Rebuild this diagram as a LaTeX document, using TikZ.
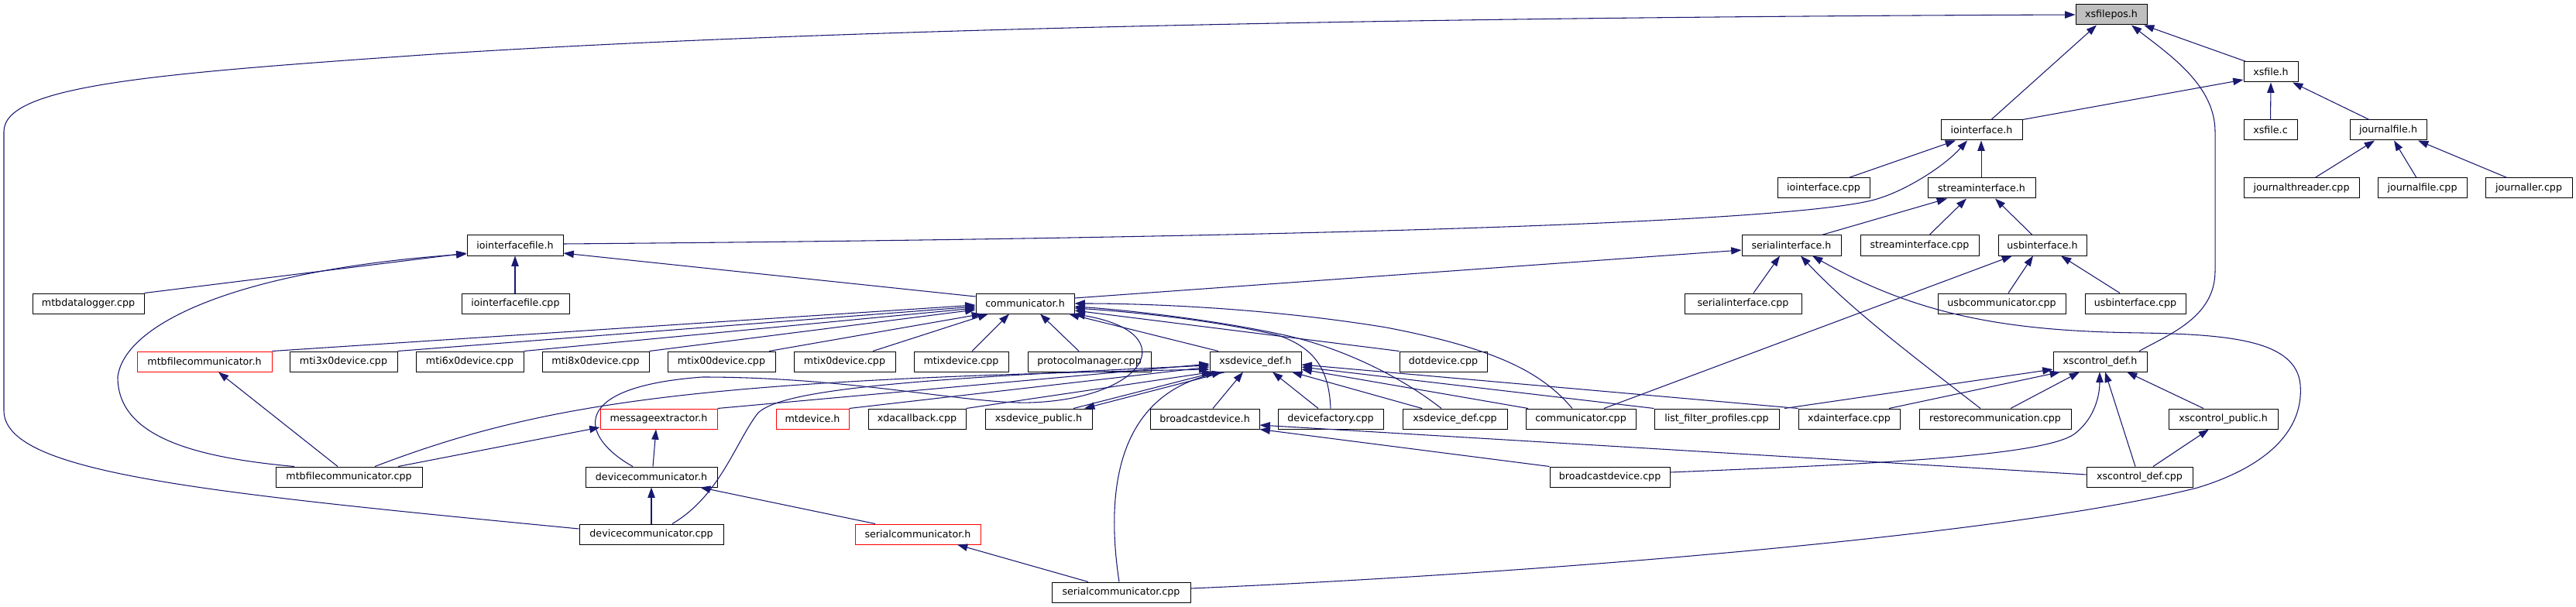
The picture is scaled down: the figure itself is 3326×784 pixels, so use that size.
\documentclass[tikz,border=0pt]{standalone}
\usepackage{fontspec}
\setmainfont{DejaVu Sans}
\usetikzlibrary{arrows.meta}
\definecolor{mblue}{HTML}{191970}
\definecolor{rootgrey}{HTML}{BFBFBF}
\tikzset{
 nbox/.style={draw=black, line width=0.75pt, fill=white, inner sep=0pt, minimum height=19.5pt, font=\fontsize{9.5}{11}\selectfont},
 redbox/.style={draw=red},
 rootbox/.style={fill=rootgrey},
 dep/.style={draw=mblue, line width=0.8pt, -{Triangle[length=10pt,width=7pt]}},
}
\newcommand\nd[6][]{\node[nbox,#1,minimum width={(#4-#3)*0.75pt}] (#2) at ({(#3+#4)/2},#5) {#6};}
\begin{document}
\begin{tikzpicture}[x=0.75pt,y=-0.75pt]
\useasboundingbox (0,0) rectangle (3326,784);
% R0
\nd[rootbox]{xsf}{2680}{2772}{19}{xsfilepos.h}
% R1
\nd{xsfh}{2897}{2967}{93}{xsfile.h}
% R2
\nd{ioh}{2506}{2611}{168}{iointerface.h}
\nd{xsfc}{2897}{2966}{168}{xsfile.c}
\nd{jfh}{3034}{3133}{168}{journalfile.h}
% R3
\nd{ioc}{2295}{2414}{243}{iointerface.cpp}
\nd{sth}{2489}{2628}{243}{streaminterface.h}
\nd{jtc}{2897}{3046}{243}{journalthreader.cpp}
\nd{jfc}{3070}{3185}{243}{journalfile.cpp}
\nd{jlc}{3209}{3321}{243}{journaller.cpp}
% R4
\nd{iofh}{603}{727}{317}{iointerfacefile.h}
\nd{sih}{2249}{2377}{317}{serialinterface.h}
\nd{stc}{2402}{2555}{317}{streaminterface.cpp}
\nd{uih}{2580}{2694}{317}{usbinterface.h}
% R5
\nd{mdl}{42}{186}{392}{mtbdatalogger.cpp}
\nd{iofc}{596}{735}{392}{iointerfacefile.cpp}
\nd{comh}{1260}{1387}{392}{communicator.h}
\nd{sic}{2175}{2326}{392}{serialinterface.cpp}
\nd{ucc}{2502}{2667}{392}{usbcommunicator.cpp}
\nd{uic}{2692}{2822}{392}{usbinterface.cpp}
% R6
\nd[redbox]{mfch}{177}{351}{467}{mtbfilecommunicator.h}
\nd{m3}{374}{513}{467}{mti3x0device.cpp}
\nd{m6}{537}{676}{467}{mti6x0device.cpp}
\nd{m8}{700}{838}{467}{mti8x0device.cpp}
\nd{mxoo}{862}{1001}{467}{mtix00device.cpp}
\nd{mxo}{1025}{1156}{467}{mtix0device.cpp}
\nd{mx}{1180}{1302}{467}{mtixdevice.cpp}
\nd{pm}{1327}{1486}{467}{protocolmanager.cpp}
\nd{xsdh}{1562}{1680}{467}{xsdevice\_def.h}
\nd{dot}{1807}{1920}{467}{dotdevice.cpp}
\nd{xcdh}{2651}{2772}{467}{xscontrol\_def.h}
% R7
\nd[redbox]{mexh}{775}{926}{541}{messageextractor.h}
\nd[redbox]{mtdh}{1002}{1096}{541}{mtdevice.h}
\nd{xdac}{1121}{1247}{541}{xdacallback.cpp}
\nd{xsph}{1272}{1410}{541}{xsdevice\_public.h}
\nd{bdh}{1485}{1626}{541}{broadcastdevice.h}
\nd{dfc}{1650}{1786}{541}{devicefactory.cpp}
\nd{xsdc}{1811}{1946}{541}{xsdevice\_def.cpp}
\nd{comc}{1970}{2112}{541}{communicator.cpp}
\nd{lfp}{2136}{2297}{541}{list\_filter\_profiles.cpp}
\nd{xdai}{2322}{2453}{541}{xdainterface.cpp}
\nd{rcc}{2478}{2674}{541}{restorecommunication.cpp}
\nd{xcph}{2800}{2941}{541}{xscontrol\_public.h}
% R8
\nd{mfcc}{356}{545}{616}{mtbfilecommunicator.cpp}
\nd{dch}{756}{926}{616}{devicecommunicator.h}
\nd{bdc}{2001}{2156}{616}{broadcastdevice.cpp}
\nd{xcdc}{2694}{2831}{616}{xscontrol\_def.cpp}
% R9
\nd{dcc}{748}{934}{690}{devicecommunicator.cpp}
\nd[redbox]{sch}{1104}{1266}{690}{serialcommunicator.h}
% R10
\nd{scc}{1358}{1537}{765}{serialcommunicator.cpp}

% ---- edges to xsfilepos.h
\draw[dep] (dcc.west |- 0,683) .. controls (250,635) and (5,610) .. (5,530) -- (5,170) .. controls (5,110) and (200,95) .. (560,70) .. controls (1100,35) and (1900,22) .. (xsf.west);
\draw[dep] (ioh.north -| 2571,0) -- (xsf.south -| 2707,0);
\draw[dep] (xsfh.north -| 2900,0) -- (xsf.south -| 2768,0);
\draw[dep] (xcdh.north -| 2762,0) .. controls (2800,432) and (2860,410) .. (2860,350) -- (2860,170) .. controls (2860,110) and (2800,70) .. (xsf.south -| 2752,0);
% ---- xsfile.h
\draw[dep] (ioh.north east) -- (xsfh.west |- 0,103);
\draw[dep] (xsfc.north) -- (xsfh.south);
\draw[dep] (jfh.north -| 3059,0) -- (xsfh.south -| 2960,0);
% ---- journalfile.h
\draw[dep] (jtc.north -| 2989,0) -- (jfh.south -| 3066,0);
\draw[dep] (jfc.north -| 3120,0) -- (jfh.south -| 3091,0);
\draw[dep] (jlc.north -| 3237,0) -- (jfh.south -| 3122,0);
% ---- iointerface.h
\draw[dep] (ioc.north -| 2387,0) -- (ioh.south -| 2525,0);
\draw[dep] (sth.north -| 2558,0) -- (ioh.south -| 2558,0);
\draw[dep] (iofh.east |- 0,315) .. controls (1600,308) and (2300,290) .. (2420,258) .. controls (2460,247) and (2510,215) .. (ioh.south -| 2540,0);
% ---- streaminterface.h
\draw[dep] (sih.north -| 2352,0) -- (sth.south -| 2514,0);
\draw[dep] (stc.north -| 2491,0) -- (sth.south -| 2539,0);
\draw[dep] (uih.north -| 2624,0) -- (sth.south -| 2576,0);
% ---- serialinterface.h
\draw[dep] (sic.north -| 2264,0) -- (sih.south -| 2298,0);
\draw[dep] (rcc.north -| 2557,0) .. controls (2470,460) and (2390,400) .. (sih.south -| 2325,0);
\draw[dep] (scc.east |- 0,760) .. controls (2000,740) and (2600,690) .. (2837,630) .. controls (2920,605) and (2975,560) .. (2970,497) .. controls (2965,440) and (2880,432) .. (2766,430) .. controls (2600,428) and (2480,410) .. (sih.south -| 2340,0);
\draw[dep] (comh.east |- 0,385) -- (sih.west |- 0,323);
% ---- usbinterface.h
\draw[dep] (ucc.north -| 2593,0) -- (uih.south -| 2625,0);
\draw[dep] (uic.north -| 2737,0) -- (uih.south -| 2661,0);
\draw[dep] (comc.north -| 2071,0) -- (uih.south -| 2598,0);
% ---- iointerfacefile.h
\draw[dep] (comh.west |- 0,383) -- (iofh.east |- 0,327);
\draw[dep] (mdl.north east) -- (iofh.west |- 0,327);
\draw[dep] (iofc.north -| 665,0) -- (iofh.south -| 665,0);
\draw[dep] (mfcc.north -| 380,0) .. controls (240,590) and (152,560) .. (152,487) .. controls (160,420) and (300,350) .. (iofh.west |- 0,328);
% ---- mtbfilecommunicator.h, messageextractor.h
\draw[dep] (mfcc.north -| 436,0) -- (mfch.south -| 282,0);
\draw[dep] (mfcc.north -| 514,0) -- (mexh.west |- 0,552);
\draw[dep] (dch.north -| 843,0) -- (mexh.south -| 847,0);
% ---- communicator.h (left / below)
\draw[dep] (mfch.north east) -- (comh.west |- 0,394);
\draw[dep] (m3.north east) -- (comh.west |- 0,396);
\draw[dep] (m6.north east) -- (comh.west |- 0,398);
\draw[dep] (m8.north east) -- (comh.west |- 0,400);
\draw[dep] (mxoo.north -| 993,0) -- (comh.south -| 1268,0);
\draw[dep] (mxo.north -| 1127,0) -- (comh.south -| 1276,0);
\draw[dep] (mx.north -| 1255,0) -- (comh.south -| 1303,0);
\draw[dep] (pm.north -| 1393,0) -- (comh.south -| 1343,0);
\draw[dep] (xsdh.north -| 1573,0) -- (comh.south -| 1380,0);
% ---- communicator.h (right)
\draw[dep] (dot.north west) -- (comh.east |- 0,401);
\draw[dep] (dfc.north -| 1718,0) .. controls (1716,480) and (1700,450) .. (1650,433) .. controls (1560,412) and (1450,402) .. (comh.east |- 0,398);
\draw[dep] (xsdc.north -| 1861,0) .. controls (1800,480) and (1720,445) .. (1650,431) .. controls (1560,412) and (1450,400) .. (comh.east |- 0,396);
\draw[dep] (comc.north -| 2030,0) .. controls (1990,480) and (1930,450) .. (1790,423) .. controls (1650,400) and (1500,392) .. (comh.east |- 0,392);
\draw[dep] (dch.north -| 817,0) .. controls (750,565) and (730,500) .. (907,487) .. controls (1100,487) and (1250,522) .. (1330,520) .. controls (1480,515) and (1530,430) .. (comh.south east);
% ---- xsdevice_def.h
\draw[dep] (mexh.north east) -- (xsdh.west |- 0,470);
\draw[dep] (mtdh.north east) -- (xsdh.west |- 0,474);
\draw[dep] (mfcc.north -| 484,0) .. controls (700,520) and (900,490) .. (xsdh.west |- 0,477);
\draw[dep] (dcc.north -| 868,0) .. controls (930,640) and (950,570) .. (979,533) .. controls (1010,505) and (1150,490) .. (xsdh.west |- 0,472);
\draw[dep] (xdac.north east) -- (xsdh.south -| 1565,0);
\draw[dep] (xsph.north -| 1386,0) -- (xsdh.south -| 1570,0);
\draw[dep] (scc.north -| 1445,0) .. controls (1425,620) and (1450,510) .. (xsdh.south -| 1578,0);
\draw[dep] (bdh.north -| 1566,0) -- (xsdh.south -| 1605,0);
\draw[dep] (dfc.north -| 1702,0) -- (xsdh.south -| 1643,0);
\draw[dep] (xsdc.north -| 1836,0) -- (xsdh.south -| 1668,0);
\draw[dep] (comc.north -| 1973,0) -- (xsdh.east |- 0,477);
\draw[dep] (lfp.north west) -- (xsdh.east |- 0,474);
\draw[dep] (xdai.north west) -- (xsdh.east |- 0,471);
\draw[dep] (xsdh.south -| 1582,0) -- (xsph.north -| 1400,0);
% ---- devicecommunicator.h, serialcommunicator.h
\draw[dep] (dcc.north -| 841,0) -- (dch.south -| 841,0);
\draw[dep] (sch.north -| 1130,0) -- (dch.south -| 904,0);
\draw[dep] (scc.north -| 1405,0) -- (sch.south -| 1236,0);
% ---- broadcastdevice.h
\draw[dep] (bdc.north west) -- (bdh.south east);
\draw[dep] (xcdc.west |- 0,613) -- (bdh.east |- 0,549);
% ---- xscontrol_def.h, xscontrol_public.h
\draw[dep] (bdc.east |- 0,610) .. controls (2400,600) and (2640,590) .. (2679,560) .. controls (2705,540) and (2711,510) .. (xcdh.south -| 2711,0);
\draw[dep] (xcdc.north -| 2757,0) -- (xcdh.south -| 2718,0);
\draw[dep] (xcdc.north -| 2780,0) -- (xcph.south -| 2852,0);
\draw[dep] (xcph.north -| 2845,0) -- (xcdh.south -| 2746,0);
\draw[dep] (lfp.north -| 2304,0) -- (xcdh.west |- 0,477);
\draw[dep] (xdai.north -| 2439,0) -- (xcdh.south -| 2660,0);
\draw[dep] (rcc.north -| 2596,0) -- (xcdh.south -| 2685,0);
\end{tikzpicture}
\end{document}
